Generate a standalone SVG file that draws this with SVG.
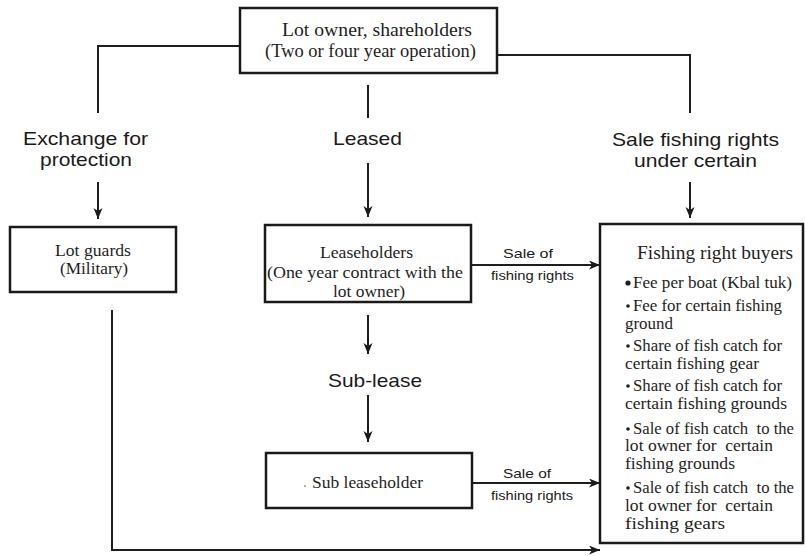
<svg xmlns="http://www.w3.org/2000/svg" width="806" height="556" viewBox="0 0 806 556">
  <defs>
    <marker id="arrow" markerUnits="userSpaceOnUse" markerWidth="13" markerHeight="11" refX="11" refY="4.5" orient="auto">
      <path d="M0,0 L11,4.5 L0,9 L3,4.5 Z" fill="#1a1a1a"/>
    </marker>
    <style>
      .box { fill: #fff; stroke: #1a1a1a; stroke-width: 2.5; }
      .line { fill: none; stroke: #1e1e1e; stroke-width: 2; }
      .arr { fill: none; stroke: #1e1e1e; stroke-width: 2; marker-end: url(#arrow); }
      .serif { font-family: "Liberation Serif", "Times New Roman", serif; fill: #1e1e1e; }
      .sans { font-family: "Liberation Sans", Arial, sans-serif; fill: #1a1a1a; }
      .lbl { font-size: 18.5px; }
      .small { font-size: 13px; }
      .body { font-size: 16.5px; }
      .dot { fill: #1e1e1e; }
    </style>
  </defs>
  <rect width="806" height="556" fill="#fff"/>

  <!-- connectors -->
  <g id="connectors">
    <path class="line" d="M240,46 H98 V113"/>
    <path class="line" d="M497,55 H690 V113"/>
    <path class="line" d="M368,85 V118"/>
    <path class="arr" d="M98,182 V219"/>
    <path class="arr" d="M368,163 V217"/>
    <path class="arr" d="M690,182 V218"/>
    <path class="arr" d="M368,315 V354"/>
    <path class="arr" d="M368,395 V442"/>
    <path class="arr" d="M471,265 H600"/>
    <path class="arr" d="M472,483 H600"/>
    <path class="arr" d="M112,310 V550 H600"/>
  </g>

  <!-- branch labels -->
  <g id="labels" class="sans lbl">
    <text x="23" y="145" textLength="125" lengthAdjust="spacingAndGlyphs">Exchange for</text>
    <text x="40" y="166" textLength="92" lengthAdjust="spacingAndGlyphs">protection</text>
    <text x="333" y="145" textLength="69" lengthAdjust="spacingAndGlyphs">Leased</text>
    <text x="612" y="146" textLength="167" lengthAdjust="spacingAndGlyphs">Sale fishing rights</text>
    <text x="634" y="167" textLength="123" lengthAdjust="spacingAndGlyphs">under certain</text>
    <text x="328" y="387" textLength="94" lengthAdjust="spacingAndGlyphs">Sub-lease</text>
  </g>
  <g id="sale-labels" class="sans small">
    <text x="503" y="258" textLength="50" lengthAdjust="spacingAndGlyphs">Sale of</text>
    <text x="491" y="280" textLength="83" lengthAdjust="spacingAndGlyphs">fishing rights</text>
    <text x="503" y="478" textLength="48" lengthAdjust="spacingAndGlyphs">Sale of</text>
    <text x="491" y="500" textLength="82" lengthAdjust="spacingAndGlyphs">fishing rights</text>
  </g>

  <!-- lot owner -->
  <g id="lot-owner">
    <rect class="box" x="240" y="8" width="257" height="65"/>
    <text class="serif" font-size="19" x="282" y="36" textLength="190" lengthAdjust="spacingAndGlyphs">Lot owner, shareholders</text>
    <text class="serif" font-size="19" x="265" y="57" textLength="211" lengthAdjust="spacingAndGlyphs">(Two or four year operation)</text>
  </g>

  <!-- lot guards -->
  <g id="lot-guards">
    <rect class="box" x="10" y="227" width="166" height="65"/>
    <text class="serif" font-size="17" x="55" y="256" textLength="76" lengthAdjust="spacingAndGlyphs">Lot guards</text>
    <text class="serif" font-size="17" x="60" y="274" textLength="68" lengthAdjust="spacingAndGlyphs">(Military)</text>
  </g>

  <!-- leaseholders -->
  <g id="leaseholders">
    <rect class="box" x="265" y="225" width="206" height="77"/>
    <text class="serif" font-size="16.5" x="320" y="258" textLength="93" lengthAdjust="spacingAndGlyphs">Leaseholders</text>
    <text class="serif" font-size="16.5" x="267" y="278" textLength="196" lengthAdjust="spacingAndGlyphs">(One year contract with the</text>
    <text class="serif" font-size="16.5" x="333" y="297" textLength="72" lengthAdjust="spacingAndGlyphs">lot owner)</text>
  </g>

  <!-- sub leaseholder -->
  <g id="sub-leaseholder">
    <rect class="box" x="266" y="453" width="206" height="55"/>
    <circle cx="305" cy="486" r="1" fill="#999"/>
    <text class="serif" font-size="17" x="312" y="488" textLength="111" lengthAdjust="spacingAndGlyphs">Sub leaseholder</text>
  </g>

  <!-- fishing right buyers -->
  <g id="fishing-right-buyers" class="serif body">
    <rect class="box" x="600" y="224" width="203" height="319"/>
    <text font-size="18.5" x="637" y="259" textLength="156" lengthAdjust="spacingAndGlyphs">Fishing right buyers</text>
    <circle class="dot" cx="628" cy="283" r="2.6"/>
    <text x="633" y="288" textLength="159" lengthAdjust="spacingAndGlyphs">Fee per boat (Kbal tuk)</text>
    <circle class="dot" cx="628" cy="306" r="1.8"/>
    <text x="633" y="311" textLength="149" lengthAdjust="spacingAndGlyphs">Fee for certain fishing</text>
    <text x="625" y="329" textLength="48" lengthAdjust="spacingAndGlyphs">ground</text>
    <circle class="dot" cx="628" cy="346" r="1.8"/>
    <text x="633" y="351" textLength="149" lengthAdjust="spacingAndGlyphs">Share of fish catch for</text>
    <text x="625" y="369" textLength="134" lengthAdjust="spacingAndGlyphs">certain fishing gear</text>
    <circle class="dot" cx="628" cy="386" r="1.8"/>
    <text x="633" y="391" textLength="149" lengthAdjust="spacingAndGlyphs">Share of fish catch for</text>
    <text x="625" y="409" textLength="162" lengthAdjust="spacingAndGlyphs">certain fishing grounds</text>
    <circle class="dot" cx="628" cy="429" r="1.8"/>
    <text x="633" y="434" textLength="161" lengthAdjust="spacingAndGlyphs" xml:space="preserve">Sale of fish catch  to the</text>
    <text x="625" y="451" textLength="148" lengthAdjust="spacingAndGlyphs" xml:space="preserve">lot owner for  certain</text>
    <text x="625" y="469" textLength="110" lengthAdjust="spacingAndGlyphs">fishing grounds</text>
    <circle class="dot" cx="628" cy="488" r="1.8"/>
    <text x="633" y="493" textLength="161" lengthAdjust="spacingAndGlyphs" xml:space="preserve">Sale of fish catch  to the</text>
    <text x="625" y="511" textLength="148" lengthAdjust="spacingAndGlyphs" xml:space="preserve">lot owner for  certain</text>
    <text x="625" y="529" textLength="100" lengthAdjust="spacingAndGlyphs">fishing gears</text>
  </g>
</svg>
